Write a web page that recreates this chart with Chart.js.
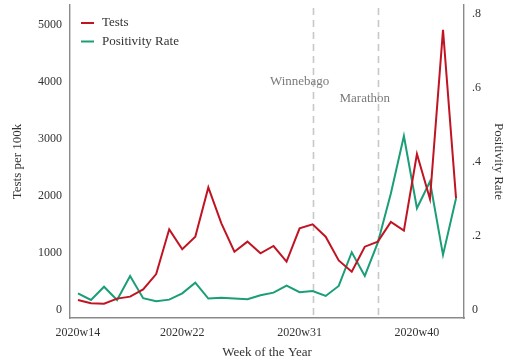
<!DOCTYPE html>
<html>
<head>
<meta charset="utf-8">
<script src="https://cdn.jsdelivr.net/npm/chart.js@4/dist/chart.umd.min.js"></script>
<style>
  html, body { margin: 0; padding: 0; background: #ffffff; }
  #wrap { width: 506px; height: 362px; }
</style>
</head>
<body>
<div id="wrap"><canvas id="chart" width="506" height="362"></canvas></div>
<script>
// Weekly testing volume and test positivity, 2020 weeks 14-43
const weeks = [14, 15, 16, 17, 18, 19, 20, 21, 22, 23, 24, 25, 26, 27, 28,
               29, 30, 31, 32, 33, 34, 35, 36, 37, 38, 39, 40, 41, 42, 43];
const testsPer100k = [175, 120, 110, 200, 235, 360, 630, 1415, 1065, 1285,
                      2150, 1520, 1023, 1200, 995, 1123, 848, 1433, 1503, 1286,
                      870, 672, 1111, 1199, 1544, 1392, 2737, 1947, 4915, 1959];
const positivityRate = [0.045, 0.027, 0.063, 0.027, 0.092, 0.032, 0.024, 0.028, 0.045, 0.074,
                        0.031, 0.033, 0.031, 0.029, 0.040, 0.047, 0.066, 0.048, 0.051, 0.038,
                        0.065, 0.156, 0.092, 0.182, 0.315, 0.470, 0.275, 0.347, 0.149, 0.302];

const weekTicks = [14, 22, 31, 40];
const weekTickLabels = ['2020w14', '2020w22', '2020w31', '2020w40'];
const testTicks = [0, 1000, 2000, 3000, 4000, 5000];
const rateTicks = [0, 0.2, 0.4, 0.6, 0.8];
const rateTickLabels = ['0', '.2', '.4', '.6', '.8'];

// Outbreak events marked with dashed verticals
const eventWeeks = [32, 37];
const eventNames = ['Winnebago', 'Marathon'];
const eventLabelLevels = [4000, 3700];

const RED = '#c01423';
const GREEN = '#1a9e77';
const FONT = '"Liberation Serif", "DejaVu Serif", serif';
const TEXT = '#333333';
const AXIS = '#8a8a8a';

const tickFont = { family: FONT, size: 12 };
const titleFont = { family: FONT, size: 13 };

// Vertical axes: fixed width, no extra room reserved for the end labels
const fitVertical = (width) => (s) => {
  s.width = width;
  s.paddingTop = 0;
  s.paddingBottom = 0;
};

const eventMarkers = {
  id: 'eventMarkers',
  beforeDatasetsDraw(chart) {
    const { ctx, chartArea, scales } = chart;
    ctx.save();
    ctx.strokeStyle = '#c8c8c8';
    ctx.lineWidth = 1.6;
    ctx.setLineDash([7, 5]);
    eventWeeks.forEach((w) => {
      const x = Math.round(scales.x.getPixelForValue(w)) + 0.5;
      ctx.beginPath();
      ctx.moveTo(x, chartArea.top + 3);
      ctx.lineTo(x, chartArea.bottom);
      ctx.stroke();
    });
    ctx.setLineDash([]);
    ctx.fillStyle = '#7a7a7a';
    ctx.font = '13px ' + FONT;
    ctx.textAlign = 'center';
    ctx.textBaseline = 'middle';
    eventWeeks.forEach((w, i) => {
      const x = scales.x.getPixelForValue(w - 1);
      const y = scales.y.getPixelForValue(eventLabelLevels[i]);
      ctx.fillText(eventNames[i], x, y);
    });
    ctx.restore();
  }
};

const insideLegend = {
  id: 'insideLegend',
  afterDatasetsDraw(chart) {
    const { ctx, chartArea } = chart;
    ctx.save();
    ctx.font = '13px ' + FONT;
    ctx.textAlign = 'left';
    ctx.textBaseline = 'middle';
    chart.data.datasets.forEach((ds, i) => {
      const y = chartArea.top + 18 + i * 18.5;
      const x0 = chartArea.left + 11;
      ctx.strokeStyle = ds.borderColor;
      ctx.lineWidth = 2;
      ctx.beginPath();
      ctx.moveTo(x0, y);
      ctx.lineTo(x0 + 13, y);
      ctx.stroke();
      ctx.fillStyle = TEXT;
      ctx.fillText(ds.label, x0 + 21, y);
    });
    ctx.restore();
  }
};

new Chart(document.getElementById('chart'), {
  type: 'line',
  data: {
    datasets: [
      {
        label: 'Tests',
        data: weeks.map((w, i) => ({ x: w, y: testsPer100k[i] })),
        borderColor: RED,
        backgroundColor: RED,
        borderWidth: 2,
        pointRadius: 0,
        tension: 0,
        yAxisID: 'y'
      },
      {
        label: 'Positivity Rate',
        data: weeks.map((w, i) => ({ x: w, y: positivityRate[i] })),
        borderColor: GREEN,
        backgroundColor: GREEN,
        borderWidth: 2,
        pointRadius: 0,
        tension: 0,
        yAxisID: 'y1'
      }
    ]
  },
  options: {
    responsive: false,
    animation: false,
    layout: { padding: { top: 5, left: 0, right: 0, bottom: 0 } },
    plugins: {
      legend: { display: false },
      tooltip: { enabled: false }
    },
    scales: {
      x: {
        type: 'linear',
        position: 'bottom',
        min: 13.39,
        max: 43.61,
        afterBuildTicks: (s) => { s.ticks = weekTicks.map((v) => ({ value: v })); },
        afterFit: (s) => { s.height = 44; s.paddingLeft = 0; s.paddingRight = 0; },
        ticks: {
          autoSkip: false,
          maxRotation: 0,
          padding: 8,
          color: TEXT,
          font: tickFont,
          callback: (v) => weekTickLabels[weekTicks.indexOf(v)]
        },
        grid: { display: false, drawTicks: false },
        border: { display: true, color: AXIS, width: 1.4 },
        title: {
          display: true,
          text: 'Week of the Year',
          color: TEXT,
          font: titleFont,
          padding: { top: 0, bottom: 2 }
        }
      },
      y: {
        type: 'linear',
        position: 'left',
        min: -140,
        max: 5350,
        afterBuildTicks: (s) => { s.ticks = testTicks.map((v) => ({ value: v })); },
        afterFit: fitVertical(70),
        ticks: { padding: 8, color: TEXT, font: tickFont, callback: (v) => String(v) },
        grid: { display: false, drawTicks: false },
        border: { display: true, color: AXIS, width: 1.4 },
        title: {
          display: true,
          text: 'Tests per 100k',
          color: TEXT,
          font: titleFont,
          padding: { top: 10, bottom: 0 }
        }
      },
      y1: {
        type: 'linear',
        position: 'right',
        min: -0.0216,
        max: 0.824,
        afterBuildTicks: (s) => { s.ticks = rateTicks.map((v) => ({ value: v })); },
        afterFit: fitVertical(42),
        ticks: {
          padding: 8,
          color: TEXT,
          font: tickFont,
          callback: (v) => rateTickLabels[rateTicks.findIndex((t) => Math.abs(t - v) < 1e-9)]
        },
        grid: { display: false, drawTicks: false },
        border: { display: true, color: AXIS, width: 1.4 },
        title: {
          display: true,
          text: 'Positivity Rate',
          color: TEXT,
          font: titleFont,
          padding: { top: 0, bottom: 0 }
        }
      }
    }
  },
  plugins: [eventMarkers, insideLegend]
});
</script>
</body>
</html>
